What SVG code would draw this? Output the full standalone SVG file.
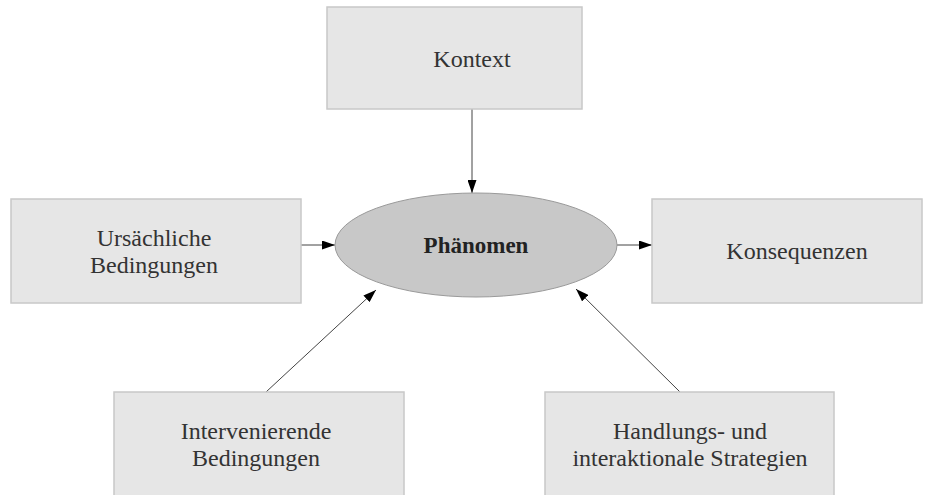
<svg xmlns="http://www.w3.org/2000/svg" width="932" height="495" viewBox="0 0 932 495">
<style>
.box{fill:#e6e6e6;stroke:#c8c8c8;stroke-width:1.5}
.t{font-family:"Liberation Serif","Times New Roman",serif;font-size:24px;fill:#333;text-anchor:middle}
.b{font-weight:bold;fill:#222;font-size:23px}
.c{stroke:#444;stroke-width:1;fill:none;marker-end:url(#ah)}
</style>
<defs>
<marker id="ah" viewBox="0 0 13 9" refX="13" refY="4.5" markerWidth="13" markerHeight="9" markerUnits="userSpaceOnUse" orient="auto">
<path d="M0,0 L13,4.5 L0,9 z" fill="#000"/>
</marker>
</defs>
<rect width="932" height="495" fill="#fff"/>
<g id="connectors">
<line class="c" x1="472" y1="109" x2="472" y2="193"/>
<line class="c" x1="301" y1="245" x2="335" y2="245"/>
<line class="c" x1="617" y1="245" x2="652" y2="245"/>
<line class="c" x1="266" y1="392" x2="376" y2="290"/>
<line class="c" x1="680" y1="392" x2="576" y2="289"/>
</g>
<g id="kontext">
<rect class="box" x="327" y="7" width="255" height="102"/>
<text class="t" x="472" y="67">Kontext</text>
</g>
<g id="ursaechliche">
<rect class="box" x="11" y="199" width="290" height="104"/>
<text class="t" x="154" y="246">Ursächliche</text>
<text class="t" x="154" y="273">Bedingungen</text>
</g>
<g id="phaenomen">
<ellipse cx="476" cy="245" rx="141" ry="52" fill="#c8c8c8" stroke="#9a9a9a" stroke-width="1"/>
<text class="t b" x="476" y="253">Phänomen</text>
</g>
<g id="konsequenzen">
<rect class="box" x="652" y="199" width="270" height="104"/>
<text class="t" x="797" y="259">Konsequenzen</text>
</g>
<g id="intervenierende">
<rect class="box" x="114" y="392" width="290" height="104"/>
<text class="t" x="256" y="439">Intervenierende</text>
<text class="t" x="256" y="466">Bedingungen</text>
</g>
<g id="handlungs">
<rect class="box" x="545" y="392" width="289" height="104"/>
<text class="t" x="690" y="439">Handlungs- und</text>
<text class="t" x="690" y="466">interaktionale Strategien</text>
</g>
</svg>
